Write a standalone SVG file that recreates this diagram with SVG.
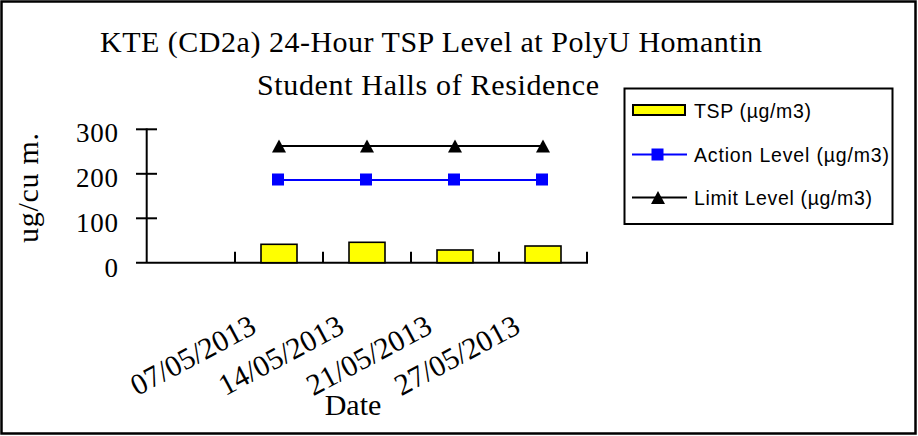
<svg xmlns="http://www.w3.org/2000/svg" width="918" height="436" viewBox="0 0 918 436">
<style>
.serif{font-family:"Liberation Serif","Times New Roman",serif;fill:#000}
.sans{font-family:"Liberation Sans",Arial,sans-serif;fill:#000;font-size:19.5px}
.title{font-size:30px}
.tick{font-size:27px;text-anchor:end}
.cat{font-size:30px;text-anchor:end}
.ax{stroke:#000;stroke-width:2;fill:none}
.bar{fill:#FFFF00;stroke:#000;stroke-width:1.6}
.act{stroke:#0000FF;stroke-width:2;fill:none}
.lim{stroke:#000;stroke-width:2;fill:none}
</style>
<defs>
<rect id="sq" x="-6" y="-6" width="12" height="12" fill="#0000FF"/>
<polygon id="tri" points="0,-6.5 7,6.5 -7,6.5" fill="#000"/>
</defs>
<rect x="1.5" y="1.5" width="914" height="432" fill="#fff" stroke="#000" stroke-width="2.5"/>
<g id="title">
<text class="serif title" x="100" y="52" textLength="662" lengthAdjust="spacing">KTE  (CD2a) 24-Hour TSP Level at PolyU Homantin</text>
<text class="serif title" x="257" y="95" textLength="342" lengthAdjust="spacing">Student Halls of Residence</text>
</g>
<g id="y-axis">
<line class="ax" x1="146.7" y1="128.5" x2="146.7" y2="263"/>
<line class="ax" x1="136" y1="129.3" x2="157" y2="129.3"/>
<line class="ax" x1="136" y1="173.8" x2="157" y2="173.8"/>
<line class="ax" x1="136" y1="218.3" x2="157" y2="218.3"/>
<text class="serif tick" x="118" y="141.5" textLength="42" lengthAdjust="spacing">300</text>
<text class="serif tick" x="118" y="186.5" textLength="42" lengthAdjust="spacing">200</text>
<text class="serif tick" x="118" y="231.5" textLength="42" lengthAdjust="spacing">100</text>
<text class="serif tick" x="118" y="277">0</text>
<text class="serif" font-size="30" text-anchor="middle" transform="translate(38,188) rotate(-90)" textLength="110" lengthAdjust="spacing">ug/cu m.</text>
</g>
<g id="x-axis">
<line class="ax" x1="136" y1="262.7" x2="588" y2="262.7"/>
<line class="ax" x1="235" y1="251.7" x2="235" y2="262.7"/>
<line class="ax" x1="323" y1="251.7" x2="323" y2="262.7"/>
<line class="ax" x1="411" y1="251.7" x2="411" y2="262.7"/>
<line class="ax" x1="499" y1="251.7" x2="499" y2="262.7"/>
<line class="ax" x1="587" y1="251.7" x2="587" y2="262.7"/>
<text class="serif cat" transform="translate(258,332) rotate(-28)">07/05/2013</text>
<text class="serif cat" transform="translate(346,332) rotate(-28)">14/05/2013</text>
<text class="serif cat" transform="translate(434,332) rotate(-28)">21/05/2013</text>
<text class="serif cat" transform="translate(522,332) rotate(-28)">27/05/2013</text>
<text class="serif" font-size="30" x="353" y="415" text-anchor="middle">Date</text>
</g>
<g id="tsp-bars">
<rect class="bar" x="261" y="244.3" width="36" height="18.4"/>
<rect class="bar" x="349" y="242.3" width="36" height="20.4"/>
<rect class="bar" x="437" y="250" width="36" height="12.7"/>
<rect class="bar" x="525" y="246" width="36" height="16.7"/>
</g>
<g id="action-level">
<polyline class="act" points="278,180 367,180 455,180 543,180"/>
<use href="#sq" x="278" y="179.5"/>
<use href="#sq" x="366" y="179.5"/>
<use href="#sq" x="454" y="179.5"/>
<use href="#sq" x="542" y="179.5"/>
</g>
<g id="limit-level">
<polyline class="lim" points="279,146 367,146 455,146 543,146"/>
<use href="#tri" x="279" y="146"/>
<use href="#tri" x="367" y="146"/>
<use href="#tri" x="455" y="146"/>
<use href="#tri" x="543" y="146"/>
</g>
<g id="legend">
<rect x="624.5" y="88.5" width="268" height="135.5" fill="#fff" stroke="#000" stroke-width="2"/>
<rect x="633" y="105" width="52" height="10" fill="#FFFF00" stroke="#000" stroke-width="2"/>
<text class="sans" x="694" y="118" textLength="117" lengthAdjust="spacing">TSP (µg/m3)</text>
<line class="act" x1="632" y1="154.5" x2="687" y2="154.5"/>
<use href="#sq" x="657.5" y="154.5"/>
<text class="sans" x="694" y="161.5" textLength="195" lengthAdjust="spacing">Action Level (µg/m3)</text>
<line class="lim" x1="632" y1="197.5" x2="687" y2="197.5"/>
<use href="#tri" x="658" y="197.5"/>
<text class="sans" x="694" y="204.5" textLength="178" lengthAdjust="spacing">Limit Level (µg/m3)</text>
</g>
</svg>
